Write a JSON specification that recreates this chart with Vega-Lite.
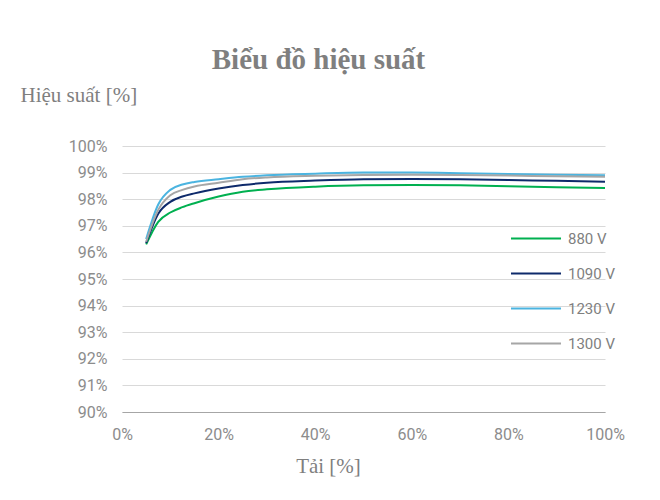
{
  "$schema": "https://vega.github.io/schema/vega-lite/v6.json",
  "width": 483,
  "height": 266,
  "autosize": {"type": "none"},
  "padding": {"left": 122, "top": 146, "right": 55, "bottom": 88},
  "background": "white",
  "title": {
    "text": "Biểu đồ hiệu suất",
    "font": "Liberation Serif",
    "fontSize": 29,
    "fontWeight": "bold",
    "color": "#7f7f7f",
    "anchor": "middle",
    "frame": "group",
    "dx": -45,
    "offset": 9
  },
  "config": {
    "view": {"stroke": null},
    "axis": {
      "labelFont": "Roboto",
      "labelFontSize": 16,
      "labelColor": "#8c8c8c",
      "gridColor": "#d9d9d9",
      "gridWidth": 1,
      "ticks": false,
      "titleFont": "Liberation Serif",
      "titleFontWeight": "normal",
      "titleColor": "#7f7f7f",
      "titleFontSize": 21
    }
  },
  "data": {
    "values": [
      {"load": 0.05, "eff": 0.9630, "series": "880 V"},
      {"load": 0.075, "eff": 0.9715, "series": "880 V"},
      {"load": 0.10, "eff": 0.9750, "series": "880 V"},
      {"load": 0.125, "eff": 0.9770, "series": "880 V"},
      {"load": 0.15, "eff": 0.9785, "series": "880 V"},
      {"load": 0.20, "eff": 0.9810, "series": "880 V"},
      {"load": 0.25, "eff": 0.9828, "series": "880 V"},
      {"load": 0.30, "eff": 0.9837, "series": "880 V"},
      {"load": 0.40, "eff": 0.9847, "series": "880 V"},
      {"load": 0.50, "eff": 0.9852, "series": "880 V"},
      {"load": 0.60, "eff": 0.9853, "series": "880 V"},
      {"load": 0.70, "eff": 0.9852, "series": "880 V"},
      {"load": 0.80, "eff": 0.9849, "series": "880 V"},
      {"load": 0.90, "eff": 0.9845, "series": "880 V"},
      {"load": 1.00, "eff": 0.9842, "series": "880 V"},
      {"load": 0.05, "eff": 0.9635, "series": "1090 V"},
      {"load": 0.075, "eff": 0.9745, "series": "1090 V"},
      {"load": 0.10, "eff": 0.9790, "series": "1090 V"},
      {"load": 0.125, "eff": 0.9810, "series": "1090 V"},
      {"load": 0.15, "eff": 0.9822, "series": "1090 V"},
      {"load": 0.20, "eff": 0.9840, "series": "1090 V"},
      {"load": 0.25, "eff": 0.9853, "series": "1090 V"},
      {"load": 0.30, "eff": 0.9862, "series": "1090 V"},
      {"load": 0.40, "eff": 0.9870, "series": "1090 V"},
      {"load": 0.50, "eff": 0.9875, "series": "1090 V"},
      {"load": 0.60, "eff": 0.9876, "series": "1090 V"},
      {"load": 0.70, "eff": 0.9875, "series": "1090 V"},
      {"load": 0.80, "eff": 0.9872, "series": "1090 V"},
      {"load": 0.90, "eff": 0.9869, "series": "1090 V"},
      {"load": 1.00, "eff": 0.9866, "series": "1090 V"},
      {"load": 0.05, "eff": 0.9650, "series": "1230 V"},
      {"load": 0.075, "eff": 0.9780, "series": "1230 V"},
      {"load": 0.10, "eff": 0.9835, "series": "1230 V"},
      {"load": 0.125, "eff": 0.9855, "series": "1230 V"},
      {"load": 0.15, "eff": 0.9865, "series": "1230 V"},
      {"load": 0.20, "eff": 0.9875, "series": "1230 V"},
      {"load": 0.25, "eff": 0.9884, "series": "1230 V"},
      {"load": 0.30, "eff": 0.9890, "series": "1230 V"},
      {"load": 0.40, "eff": 0.9896, "series": "1230 V"},
      {"load": 0.50, "eff": 0.9900, "series": "1230 V"},
      {"load": 0.60, "eff": 0.9900, "series": "1230 V"},
      {"load": 0.70, "eff": 0.9898, "series": "1230 V"},
      {"load": 0.80, "eff": 0.9895, "series": "1230 V"},
      {"load": 0.90, "eff": 0.9892, "series": "1230 V"},
      {"load": 1.00, "eff": 0.9890, "series": "1230 V"},
      {"load": 0.05, "eff": 0.9640, "series": "1300 V"},
      {"load": 0.075, "eff": 0.9760, "series": "1300 V"},
      {"load": 0.10, "eff": 0.9815, "series": "1300 V"},
      {"load": 0.125, "eff": 0.9835, "series": "1300 V"},
      {"load": 0.15, "eff": 0.9848, "series": "1300 V"},
      {"load": 0.20, "eff": 0.9862, "series": "1300 V"},
      {"load": 0.25, "eff": 0.9875, "series": "1300 V"},
      {"load": 0.30, "eff": 0.9882, "series": "1300 V"},
      {"load": 0.40, "eff": 0.9888, "series": "1300 V"},
      {"load": 0.50, "eff": 0.9891, "series": "1300 V"},
      {"load": 0.60, "eff": 0.9892, "series": "1300 V"},
      {"load": 0.70, "eff": 0.9891, "series": "1300 V"},
      {"load": 0.80, "eff": 0.9889, "series": "1300 V"},
      {"load": 0.90, "eff": 0.9886, "series": "1300 V"},
      {"load": 1.00, "eff": 0.9884, "series": "1300 V"}
    ]
  },
  "mark": {"type": "line", "strokeWidth": 2, "interpolate": "monotone"},
  "encoding": {
    "x": {
      "field": "load",
      "type": "quantitative",
      "scale": {"domain": [0, 1], "nice": false, "zero": false},
      "axis": {
        "format": ".0%",
        "values": [0, 0.2, 0.4, 0.6, 0.8, 1.0],
        "grid": false,
        "domain": true,
        "domainColor": "#a6a6a6",
        "domainWidth": 1,
        "labelFlush": false,
        "labelPadding": 14,
        "title": "Tải [%]",
        "titleX": 206,
        "titleY": 54,
        "titleAlign": "center",
        "titleBaseline": "middle"
      }
    },
    "y": {
      "field": "eff",
      "type": "quantitative",
      "scale": {"domain": [0.9, 1.0], "nice": false, "zero": false},
      "axis": {
        "format": ".0%",
        "values": [0.9, 0.91, 0.92, 0.93, 0.94, 0.95, 0.96, 0.97, 0.98, 0.99, 1.0],
        "grid": true,
        "domain": false,
        "labelPadding": 15,
        "title": "Hiệu suất [%]",
        "titleAngle": 0,
        "titleX": -102,
        "titleY": -51,
        "titleAlign": "left",
        "titleBaseline": "middle"
      }
    },
    "color": {
      "field": "series",
      "type": "nominal",
      "sort": ["880 V", "1090 V", "1230 V", "1300 V"],
      "scale": {
        "domain": ["880 V", "1090 V", "1230 V", "1300 V"],
        "range": ["#00b050", "#0e2a6b", "#4bb4e0", "#a6a6a6"]
      },
      "legend": {
        "title": null,
        "orient": "none",
        "legendX": 388,
        "legendY": 75,
        "symbolType": "stroke",
        "symbolSize": 2500,
        "symbolStrokeWidth": 2,
        "labelFont": "Roboto",
        "labelFontSize": 15,
        "labelColor": "#7f7f7f",
        "labelOffset": 6,
        "rowPadding": 0,
        "clipHeight": 35
      }
    }
  }
}
